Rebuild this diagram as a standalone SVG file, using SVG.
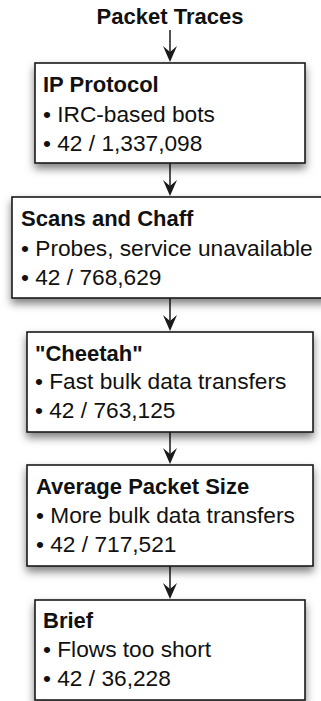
<svg xmlns="http://www.w3.org/2000/svg" width="321" height="701" viewBox="0 0 321 701">
  <style>
    .box { fill: #ffffff; stroke: #1a1a1a; stroke-width: 1.6; filter: url(#shadow); }
    .title { font-family: "Liberation Sans", Arial, sans-serif; font-weight: bold; font-size: 22px; fill: #111111; }
    .item { font-family: "Liberation Sans", Arial, sans-serif; font-size: 22.7px; fill: #111111; }
    .shaft { stroke: #1a1a1a; stroke-width: 1.5; fill: none; }
    .head { fill: #1a1a1a; }
  </style>
  <defs>
    <filter id="shadow" x="-10%" y="-20%" width="120%" height="150%">
      <feDropShadow dx="0" dy="5" stdDeviation="4" flood-color="#000000" flood-opacity="0.5"/>
    </filter>
    <!-- notched arrowhead, tip at the origin pointing down -->
    <path id="arrowhead" d="M0 0 L-7 -16 L0 -10 L7 -16 Z"/>
  </defs>

  <rect width="321" height="701" fill="#ffffff"/>

  <text class="title" x="170" y="24" text-anchor="middle">Packet Traces</text>

  <g id="connectors">
    <path class="shaft" d="M170 30 V60"/>
    <path class="shaft" d="M170 163 V194"/>
    <path class="shaft" d="M170 298 V329"/>
    <path class="shaft" d="M170 432 V462"/>
    <path class="shaft" d="M170 566 V597"/>
    <use class="head" href="#arrowhead" x="170" y="62"/>
    <use class="head" href="#arrowhead" x="170" y="196"/>
    <use class="head" href="#arrowhead" x="170" y="331"/>
    <use class="head" href="#arrowhead" x="170" y="464"/>
    <use class="head" href="#arrowhead" x="170" y="599"/>
  </g>

  <g id="ip-protocol">
    <rect class="box" x="35" y="63" width="270" height="100"/>
    <text class="title" x="43" y="92">IP Protocol</text>
    <text class="item" x="43" y="122">• IRC-based bots</text>
    <text class="item" x="43" y="151">• 42 / 1,337,098</text>
  </g>

  <g id="scans-and-chaff">
    <rect class="box" x="12" y="197" width="316" height="101"/>
    <text class="title" x="21" y="226">Scans and Chaff</text>
    <text class="item" x="21" y="256">• Probes, service unavailable</text>
    <text class="item" x="21" y="285">• 42 / 768,629</text>
  </g>

  <g id="cheetah">
    <rect class="box" x="27" y="332" width="286" height="100"/>
    <text class="title" x="35" y="361">"Cheetah"</text>
    <text class="item" x="35" y="389">• Fast bulk data transfers</text>
    <text class="item" x="35" y="418">• 42 / 763,125</text>
  </g>

  <g id="average-packet-size">
    <rect class="box" x="27" y="465" width="286" height="101"/>
    <text class="title" x="36" y="494">Average Packet Size</text>
    <text class="item" x="36" y="523">• More bulk data transfers</text>
    <text class="item" x="36" y="552">• 42 / 717,521</text>
  </g>

  <g id="brief">
    <rect class="box" x="35" y="600" width="270" height="100"/>
    <text class="title" x="43" y="628">Brief</text>
    <text class="item" x="43" y="657">• Flows too short</text>
    <text class="item" x="43" y="686">• 42 / 36,228</text>
  </g>
</svg>
